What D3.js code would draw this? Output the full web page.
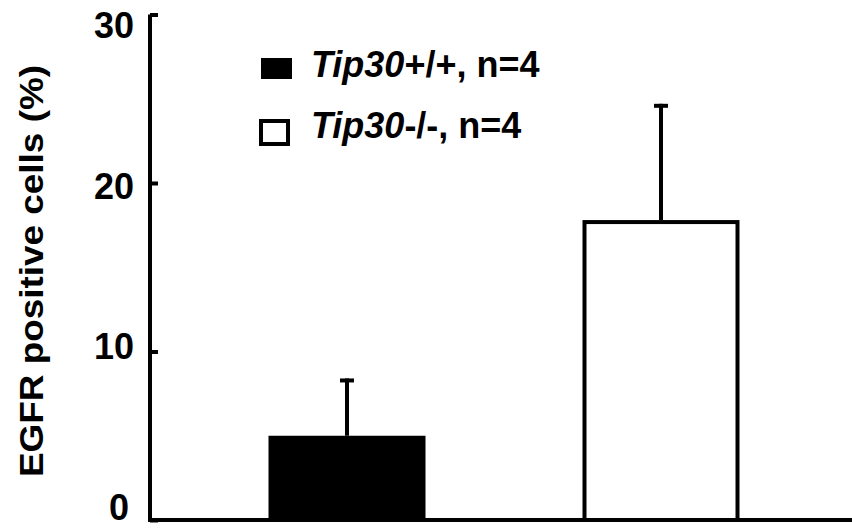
<!DOCTYPE html>
<html>
<head>
<meta charset="utf-8">
<script src="https://cdn.jsdelivr.net/npm/d3@7"></script>
<style>
  html, body { margin: 0; padding: 0; background: #fff; }
  svg { display: block; font-family: "Liberation Sans", Arial, Helvetica, sans-serif; }
</style>
</head>
<body>
<svg id="chart" width="852" height="529"></svg>
<script>
// ---- data ----
const categories = ["Tip30+/+", "Tip30-/-"];
const means = [5.0, 17.8];
const errors = [3.4, 6.9];
const nValues = [4, 4];
const yTicks = [0, 10, 20, 30];
const legendItalic = ["Tip30", "Tip30"];
const legendRest = ["+/+, n=4", "-/-, n=4"];
const fills = ["#000000", "#ffffff"];

const svg = d3.select("#chart");

const y = d3.scaleLinear().domain([0, 30]).range([520, 14.5]);
const yLabel = d3.scaleLinear().domain([0, 30]).range([507, 25.5]);
const x = d3.scaleBand().domain(categories).range([190, 818]).paddingInner(0.5).paddingOuter(0.25);

const axisX = 150;

// y axis
const yAxis = d3.axisLeft(y).tickValues(yTicks).tickSize(-8).tickFormat("");
const gy = svg.append("g").attr("transform", `translate(${axisX},0)`).call(yAxis);
gy.select(".domain").attr("stroke", "#000").attr("stroke-width", 4)
  .attr("d", `M0,${y(30)}V${y(0)}`);
gy.selectAll(".tick line").attr("stroke", "#000").attr("stroke-width", 4);

// y tick labels
svg.append("g").selectAll("text").data(yTicks).join("text")
  .attr("x", d => d === 0 ? 129 : 134)
  .attr("y", d => yLabel(d))
  .attr("dy", "0.36em")
  .attr("text-anchor", "end")
  .attr("font-size", 36)
  .attr("font-weight", "bold")
  .text(d => d);

// x baseline
svg.append("line")
  .attr("x1", axisX - 2).attr("x2", 852)
  .attr("y1", y(0)).attr("y2", y(0))
  .attr("stroke", "#000").attr("stroke-width", 4);

// error bars
const eb = svg.append("g");
categories.forEach((c, i) => {
  const cx = x(c) + x.bandwidth() / 2;
  eb.append("line")
    .attr("x1", cx).attr("x2", cx)
    .attr("y1", y(means[i])).attr("y2", y(means[i] + errors[i]))
    .attr("stroke", "#000").attr("stroke-width", 4);
  eb.append("line")
    .attr("x1", cx - 7).attr("x2", cx + 7)
    .attr("y1", y(means[i] + errors[i]) + 2).attr("y2", y(means[i] + errors[i]) + 2)
    .attr("stroke", "#000").attr("stroke-width", 4);
});

// bars
svg.append("g").selectAll("rect").data(categories).join("rect")
  .attr("x", (d) => x(d) + 2)
  .attr("width", x.bandwidth() - 4)
  .attr("y", (d, i) => y(means[i]) + 2)
  .attr("height", (d, i) => y(0) - y(means[i]) - 2)
  .attr("fill", (d, i) => fills[i])
  .attr("stroke", "#000")
  .attr("stroke-width", 4);

// y axis title
svg.append("text")
  .attr("transform", "translate(43,271) rotate(-90)")
  .attr("text-anchor", "middle")
  .attr("font-size", 34)
  .attr("font-weight", "bold")
  .attr("textLength", 412)
  .attr("lengthAdjust", "spacingAndGlyphs")
  .text("EGFR positive cells (%)");

// legend
const legY = [77, 138];
const lg = svg.append("g");
lg.append("rect").attr("x", 261).attr("y", 58).attr("width", 31).attr("height", 21).attr("fill", "#000");
lg.append("rect").attr("x", 261).attr("y", 121).attr("width", 27).attr("height", 23)
  .attr("fill", "#fff").attr("stroke", "#000").attr("stroke-width", 4);
categories.forEach((c, i) => {
  const t = lg.append("text")
    .attr("x", 311).attr("y", legY[i])
    .attr("font-size", 36).attr("font-weight", "bold");
  t.append("tspan").attr("font-style", "italic").text(legendItalic[i]);
  t.append("tspan").text(legendRest[i]);
});
</script>
</body>
</html>
